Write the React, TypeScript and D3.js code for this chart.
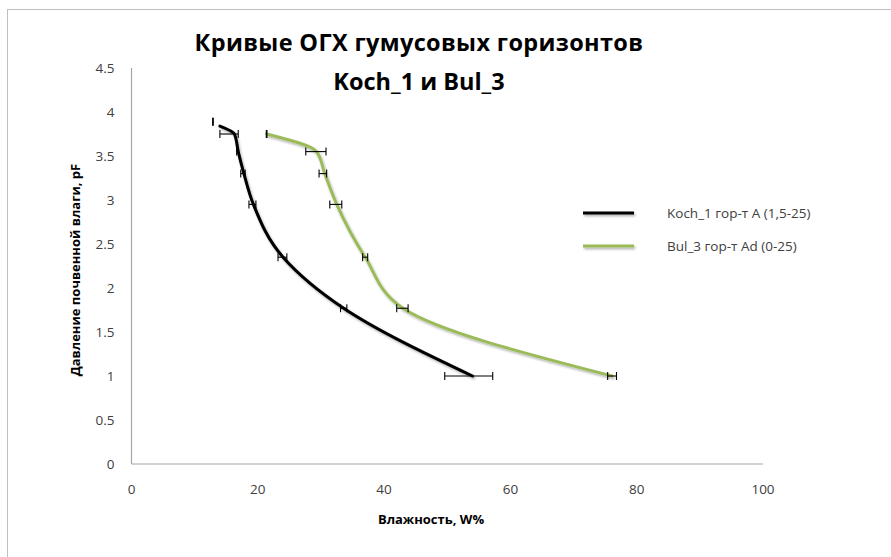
import React from "react";
import * as d3 from "d3";

// Water retention curves (pF vs. moisture, W%)
const kochX = [14.0, 16.3, 16.9, 17.8, 19.3, 24.0, 33.6, 54.0];
const kochY = [3.84, 3.75, 3.55, 3.3, 2.95, 2.35, 1.77, 1.0];

const bulX = [21.4, 29.3, 30.6, 32.5, 37.0, 43.0, 76.1];
const bulY = [3.75, 3.55, 3.3, 2.95, 2.35, 1.77, 1.0];

// Horizontal error bars: level (pF), lower and upper moisture bound
const kochErrY = [3.89, 3.75, 3.55, 3.3, 2.95, 2.35, 1.77, 1.0];
const kochErrLo = [12.85, 14.0, 16.65, 17.3, 18.6, 23.2, 33.1, 49.6];
const kochErrHi = [12.95, 16.9, 16.95, 18.0, 19.7, 24.6, 34.1, 57.2];

const bulErrY = [3.75, 3.55, 3.3, 2.95, 2.35, 1.77, 1.0];
const bulErrLo = [21.35, 27.6, 29.7, 31.4, 36.6, 42.0, 75.4];
const bulErrHi = [21.45, 30.8, 30.9, 33.3, 37.4, 43.8, 76.8];

const xTicks = [0, 20, 40, 60, 80, 100];
const yTicks = [0, 0.5, 1, 1.5, 2, 2.5, 3, 3.5, 4, 4.5];

const titleLines = ["Кривые ОГХ гумусовых горизонтов", "Koch_1 и Bul_3"];
const xTitle = "Влажность, W%";
const yTitle = "Давление почвенной влаги, pF";
const legendNames = ["Koch_1 гор-т А (1,5-25)", "Bul_3 гор-т Аd (0-25)"];
const seriesColors = ["#000000", "#9BBB59"];

const W = 891;
const H = 557;
const FONT = "'Open Sans', 'Noto Sans', sans-serif";

export default function App() {
  const x = d3.scaleLinear().domain([0, 100]).range([131.5, 763]);
  const y = d3.scaleLinear().domain([0, 4.5]).range([464, 68]);

  // moisture is a smooth monotone function of pF along each curve
  const line = d3
    .line<[number, number]>()
    .x((d) => x(d[0]))
    .y((d) => y(d[1]))
    .curve(d3.curveMonotoneY);

  const kochPts = kochX.map((v, i) => [v, kochY[i]] as [number, number]);
  const bulPts = bulX.map((v, i) => [v, bulY[i]] as [number, number]);

  const errBars = (ys: number[], lo: number[], hi: number[], key: string) =>
    ys.map((yy, i) => {
      const py = y(yy);
      const x0 = x(lo[i]);
      const x1 = x(hi[i]);
      return (
        <g key={`${key}-${i}`} stroke="#000" strokeWidth={1.1} fill="none">
          <line x1={x0} x2={x1} y1={py} y2={py} />
          <line x1={x0} x2={x0} y1={py - 4} y2={py + 4} />
          <line x1={x1} x2={x1} y1={py - 4} y2={py + 4} />
        </g>
      );
    });

  return (
    <svg
      width={W}
      height={H}
      style={{ position: "absolute", left: 0, top: 0, background: "#fff" }}
      fontFamily={FONT}
    >
      <defs>
        <filter id="shadow" filterUnits="userSpaceOnUse" x={0} y={0} width={W} height={H}>
          <feDropShadow dx="1.2" dy="1.8" stdDeviation="1" floodColor="#000" floodOpacity="0.3" />
        </filter>
      </defs>

      <rect x={0} y={0} width={W} height={H} fill="#fff" />
      {/* chart area frame */}
      <rect x={7.5} y={9.5} width={W + 20} height={H + 20} fill="none" stroke="#BFBFBF" strokeWidth={1} />

      {/* title */}
      <text x={419} y={51} textAnchor="middle" fontSize={23.5} fontWeight="bold" fill="#000" letterSpacing={0.35}>
        {titleLines[0]}
      </text>
      <text x={419} y={90} textAnchor="middle" fontSize={23.5} fontWeight="bold" fill="#000">
        {titleLines[1]}
      </text>

      {/* axes */}
      <line x1={x(0)} x2={x(0)} y1={y(4.5)} y2={y(0)} stroke="#A6A6A6" strokeWidth={1.2} />
      <line x1={x(0)} x2={x(100)} y1={y(0)} y2={y(0)} stroke="#A6A6A6" strokeWidth={1.2} />

      {yTicks.map((t) => (
        <text key={`y${t}`} x={114.5} y={y(t)} dy="0.35em" textAnchor="end" fontSize={13.5} fill="#404040">
          {t}
        </text>
      ))}
      {xTicks.map((t) => (
        <text key={`x${t}`} x={x(t)} y={489} dy="0.35em" textAnchor="middle" fontSize={13.5} fill="#404040">
          {t}
        </text>
      ))}

      <text x={431} y={519} dy="0.35em" textAnchor="middle" fontSize={13} fontWeight="bold" fill="#000">
        {xTitle}
      </text>
      <text
        transform={`translate(75,270) rotate(-90)`}
        dy="0.35em"
        textAnchor="middle"
        fontSize={13}
        fontWeight="bold"
        fill="#000"
      >
        {yTitle}
      </text>

      {/* series */}
      <path d={line(kochPts) ?? ""} fill="none" stroke={seriesColors[0]} strokeWidth={3} filter="url(#shadow)" strokeLinecap="round" />
      <path d={line(bulPts) ?? ""} fill="none" stroke={seriesColors[1]} strokeWidth={3} filter="url(#shadow)" strokeLinecap="round" />

      {errBars(kochErrY, kochErrLo, kochErrHi, "k")}
      {errBars(bulErrY, bulErrLo, bulErrHi, "b")}

      {/* legend */}
      {legendNames.map((name, i) => {
        const ly = 213 + i * 33;
        return (
          <g key={name}>
            <line x1={583} x2={634} y1={ly} y2={ly} stroke={seriesColors[i]} strokeWidth={3} filter="url(#shadow)" />
            <text x={667} y={ly} dy="0.35em" fontSize={13.5} fill="#404040">
              {name}
            </text>
          </g>
        );
      })}
    </svg>
  );
}
